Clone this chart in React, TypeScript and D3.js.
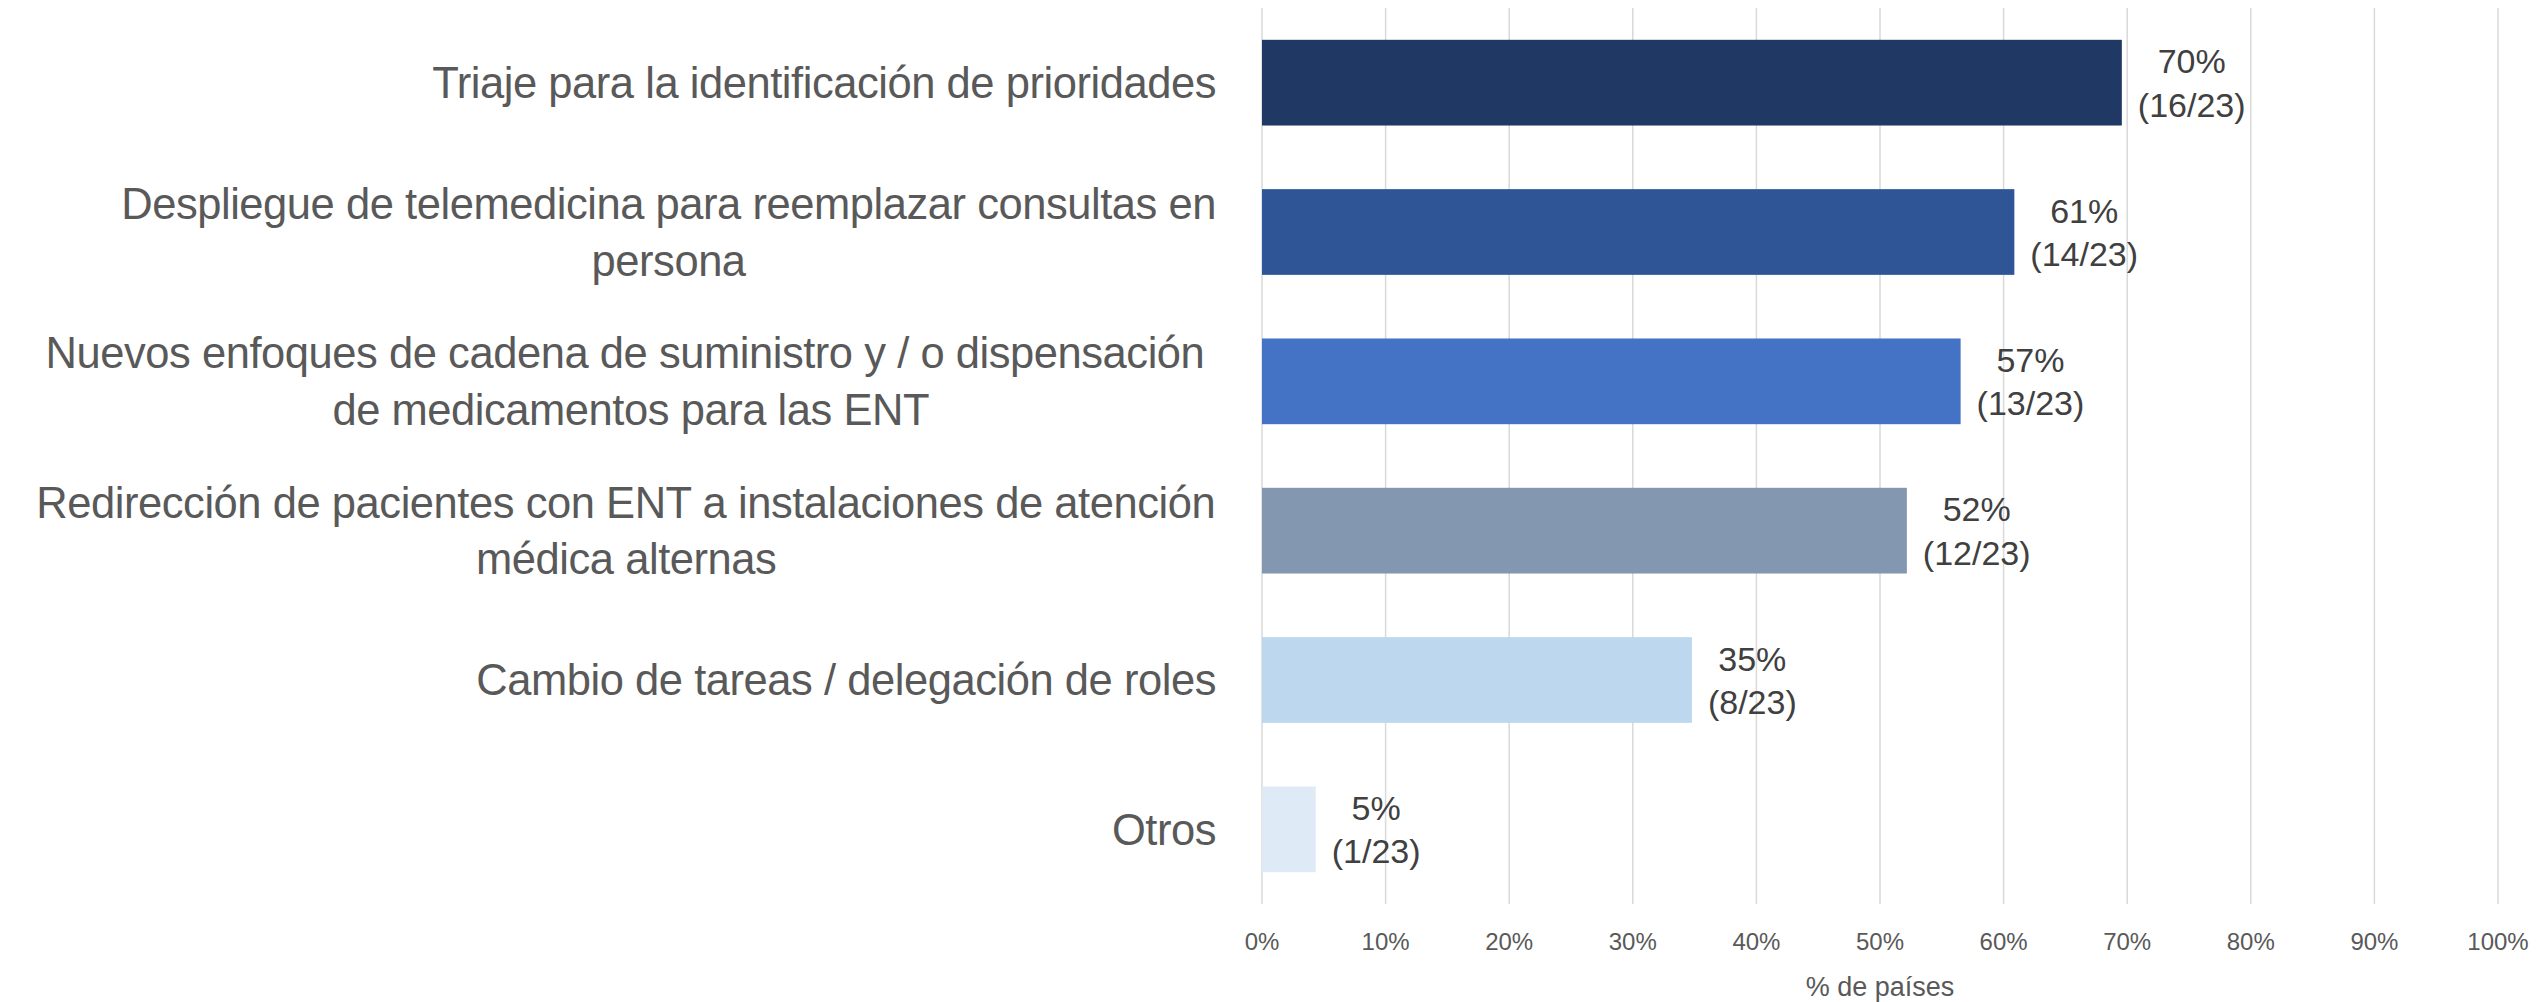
import React from "react";
import * as d3 from "d3";

const categories: string[] = [
  "Triaje para la identificación de prioridades",
  "Despliegue de telemedicina para reemplazar consultas en\npersona",
  "Nuevos enfoques de cadena de suministro y / o dispensación \nde medicamentos para las ENT",
  "Redirección de pacientes con ENT a instalaciones de atención\nmédica alternas",
  "Cambio de tareas / delegación de roles",
  "Otros",
];
const counts: number[] = [16, 14, 13, 12, 8, 1];
const total = 23;
const percentLabels: string[] = ["70%", "61%", "57%", "52%", "35%", "5%"];
const barColors: string[] = ["#203864", "#2F5597", "#4472C4", "#8497B0", "#BDD7EE", "#DEEBF7"];
const tickValues: number[] = [0, 0.1, 0.2, 0.3, 0.4, 0.5, 0.6, 0.7, 0.8, 0.9, 1];
const axisTitle = "% de países";

const W = 2539;
const H = 1002;
const FONT = "'Liberation Sans', Arial, sans-serif";
const CAT_SIZE = 43.5;
const CAT_LS = -0.45;
const CAT_LH = 56.7;
const LBL_SIZE = 34;
const LBL_LH = 43.3;
const TICK_SIZE = 24;
const TITLE_SIZE = 27;

let ctx: CanvasRenderingContext2D | null = null;
function measure(text: string, size: number, ls = 0): number {
  if (!ctx) {
    const c = document.createElement("canvas");
    ctx = c.getContext("2d");
  }
  if (!ctx) return text.length * size * 0.5;
  ctx.font = `${size}px ${FONT}`;
  return ctx.measureText(text).width + ls * text.length;
}

export default function App() {
  const x = d3.scaleLinear().domain([0, 1]).range([1262, 2498]);
  const y = d3
    .scaleBand<number>()
    .domain(d3.range(categories.length))
    .range([8, 904])
    .paddingInner(0.426)
    .paddingOuter(0.213);
  const step = y.step();
  const catRight = 1216;

  return (
    <svg
      width={W}
      height={H}
      style={{ position: "absolute", left: 0, top: 0, background: "#fff" }}
      fontFamily={FONT}
    >
      <rect x={0} y={0} width={W} height={H} fill="#fff" />
      {tickValues.map((t) => (
        <line
          key={"g" + t}
          x1={x(t)}
          x2={x(t)}
          y1={8}
          y2={904}
          stroke="#D9D9D9"
          strokeWidth={1.5}
        />
      ))}
      {tickValues.map((t) => (
        <text
          key={"t" + t}
          x={x(t)}
          y={950}
          textAnchor="middle"
          fontSize={TICK_SIZE}
          fill="#595959"
        >
          {d3.format(".0%")(t)}
        </text>
      ))}
      <text x={(x(0) + x(1)) / 2} y={996} textAnchor="middle" fontSize={TITLE_SIZE} fill="#595959">
        {axisTitle}
      </text>
      {counts.map((c, i) => {
        const v = c / total;
        const y0 = y(i) as number;
        const bw = y.bandwidth();
        const end = x(v);
        const l1 = percentLabels[i];
        const l2 = `(${c}/${total})`;
        const wMax = Math.max(measure(l1, LBL_SIZE), measure(l2, LBL_SIZE));
        const cx = end + 16 + wMax / 2;
        const cy = y0 + bw / 2;
        return (
          <g key={"b" + i}>
            <rect x={x(0)} y={y0} width={end - x(0)} height={bw} fill={barColors[i]} />
            <text x={cx} y={cy - LBL_LH / 2 + 0.36 * LBL_SIZE} textAnchor="middle" fontSize={LBL_SIZE} fill="#404040">
              {l1}
            </text>
            <text x={cx} y={cy + LBL_LH / 2 + 0.36 * LBL_SIZE} textAnchor="middle" fontSize={LBL_SIZE} fill="#404040">
              {l2}
            </text>
          </g>
        );
      })}
      {categories.map((cat, i) => {
        const lines = cat.split("\n");
        const widths = lines.map((l) => measure(l, CAT_SIZE, CAT_LS));
        const wMax = Math.max(...widths);
        const center = catRight - wMax / 2;
        const bandCenter = (y(i) as number) - (step - y.bandwidth()) / 2 + step / 2;
        const n = lines.length;
        return (
          <g key={"c" + i}>
            {lines.map((l, j) => (
              <text
                key={j}
                x={center - widths[j] / 2}
                y={bandCenter + (j - (n - 1) / 2) * CAT_LH + 0.35 * CAT_SIZE}
                fontSize={CAT_SIZE}
                letterSpacing={CAT_LS}
                fill="#595959"
              >
                {l.trimEnd()}
              </text>
            ))}
          </g>
        );
      })}
    </svg>
  );
}
